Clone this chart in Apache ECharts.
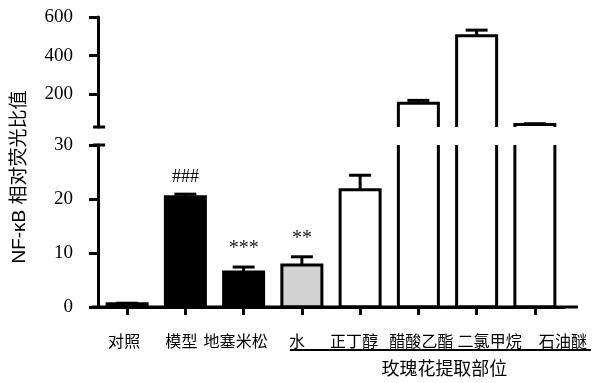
<!DOCTYPE html>
<html><head><meta charset="utf-8">
<script src="https://cdn.jsdelivr.net/npm/echarts@6/dist/echarts.min.js"></script>
<style>html,body{margin:0;padding:0;background:#fff}#c{width:616px;height:383px}</style>
</head><body><div id="c"></div>
<script>
// ---- data ----
const categories = ['对照','模型','地塞米松','水','正丁醇','醋酸乙酯','二氯甲烷','石油醚'];
const means = [0.6, 20.4, 6.5, 7.8, 21.7, 153, 503, 43];
const errors = [0.1, 0.5, 0.9, 1.5, 2.7, 15, 29, 4];
const marks = ['', '###', '***', '**', '', '', '', ''];
const lowerTicks = [0, 10, 20, 30];
const upperTicks = [200, 400, 600];
const yName = 'NF-κB 相对荧光比值';
const groupName = '玫瑰花提取部位';

// ---- styles ----
const FILLS = ['#000','#000','#000','#d3d3d3','#fff','#fff','#fff','#fff'];
const LABEL_SHIFT = [-3, -4, -8, -5, -6, 3, 13, 28];
const BAR_W = 40, CAP_W = 22, LW = 3;
const SERIF = '"Liberation Serif","Noto Sans CJK SC",serif';
const CJK = '"Noto Sans CJK SC",sans-serif';

const chart = echarts.init(document.getElementById('c'), null, {renderer:'canvas'});
const rows = categories.map((c,i)=>[i, means[i], errors[i]]);

function outside(params, y){
  const cs = params.coordSys;
  return y > cs.y + cs.height - 1;
}
function barItem(params, api){
  const i = api.value(0), v = api.value(1);
  const p0 = api.coord([i, 0]), p1 = api.coord([i, v]);
  if(outside(params, p1[1])) return null;
  return {type:'rect', shape:{x:p0[0]-BAR_W/2, y:p1[1], width:BAR_W, height:p0[1]-p1[1]},
    style:{fill:FILLS[i], stroke:'#000', lineWidth:LW}};
}
function errItem(params, api){
  const i = api.value(0), v = api.value(1), e = api.value(2);
  const a = api.coord([i, v]), b = api.coord([i, v+e]);
  if(outside(params, b[1])) return null;
  return {type:'group', children:[
    {type:'line', shape:{x1:a[0], y1:a[1], x2:b[0], y2:b[1]}, style:{stroke:'#000', lineWidth:LW}},
    {type:'line', shape:{x1:b[0]-CAP_W/2, y1:b[1], x2:b[0]+CAP_W/2, y2:b[1]}, style:{stroke:'#000', lineWidth:LW}}
  ]};
}
function markItem(params, api){
  const i = api.value(0), v = api.value(1), e = api.value(2);
  const t = marks[i];
  if(!t) return null;
  const b = api.coord([i, v+e]);
  const star = t.indexOf('*')>=0;
  return {type:'text', x:b[0], y:b[1]-8,
    style:{text:t, textAlign:'center', textVerticalAlign:'bottom', fill:star?'#222':'#000',
      font:(star?'20px ':'18px ')+SERIF}};
}
function seriesFor(g){
  const s = [
    {type:'custom', xAxisIndex:g, yAxisIndex:g, data:rows, clip:true, renderItem:barItem, encode:{x:0,y:1}, z:2},
    {type:'custom', xAxisIndex:g, yAxisIndex:g, data:rows, clip:true, renderItem:errItem, encode:{x:0,y:1}, z:1}
  ];
  if(g===1) s.push({type:'custom', xAxisIndex:g, yAxisIndex:g, data:rows, clip:false, renderItem:markItem, encode:{x:0,y:1}, z:3});
  return s;
}
const catData = categories.map((c,i)=>{
  const d = LABEL_SHIFT[i]*2;
  return {value:c, textStyle:{padding: d>=0 ? [0,0,0,d] : [0,-d,0,0]}};
});

const axisLine = {show:true, lineStyle:{color:'#000', width:LW}};
chart.setOption({
  animation:false,
  grid:[
    {left:98, width:466, top:17, height:110},
    {left:98, width:466, top:145, height:162}
  ],
  xAxis:[
    {gridIndex:0, type:'category', data:categories, show:false},
    {gridIndex:1, type:'category', data:catData,
      axisLine:axisLine, axisTick:{show:true, alignWithLabel:true, length:8, lineStyle:{color:'#000', width:LW}},
      axisLabel:{interval:0, hideOverlap:false, margin:26, color:'#000', fontSize:16, fontFamily:CJK}}
  ],
  yAxis:[
    {gridIndex:0, type:'value', min:30, max:600, splitLine:{show:false},
      axisLine:axisLine,
      axisTick:{show:true, length:9, customValues:upperTicks, lineStyle:{color:'#000', width:LW}},
      axisLabel:{customValues:upperTicks, margin:25, color:'#000', fontSize:19, fontFamily:SERIF}},
    {gridIndex:1, type:'value', min:0, max:30, interval:10, splitLine:{show:false},
      axisLine:axisLine,
      axisTick:{show:true, length:9, customValues:lowerTicks, lineStyle:{color:'#000', width:LW}},
      axisLabel:{customValues:lowerTicks, margin:25, color:'#000', fontSize:19, fontFamily:SERIF}}
  ],
  series:[...seriesFor(0), ...seriesFor(1)]
});

// decorations computed from the axes
const yAxisX = chart.convertToPixel({xAxisIndex:1}, 0) - 29;
const y0 = chart.convertToPixel({yAxisIndex:1}, 0);
const y30 = chart.convertToPixel({yAxisIndex:1}, 30);
const yUpBottom = chart.convertToPixel({yAxisIndex:0}, 30);
const xWater = chart.convertToPixel({xAxisIndex:1}, 3);
const xLast = chart.convertToPixel({xAxisIndex:1}, 7);
const ln = (x1,y1,x2,y2,w)=>({type:'line', shape:{x1,y1,x2,y2}, style:{stroke:'#000', lineWidth:w||LW}, z:10});
chart.setOption({graphic:[
  ln(yAxisX-6, y0, xLast+43, y0),
  ln(yAxisX-5, y30, yAxisX+7, y30),
  ln(yAxisX-5, yUpBottom, yAxisX+7, yUpBottom),
  ln(xWater-12, 350, xLast+56, 350, 2),
  {type:'text', x:(xWater-12+xLast+56)/2+4, y:368, style:{text:groupName, textAlign:'center', textVerticalAlign:'middle', fill:'#000', font:'18px '+CJK}},
  {type:'text', x:20, y:177, rotation:Math.PI/2, style:{text:yName, textAlign:'center', textVerticalAlign:'middle', fill:'#000', font:'19px "Liberation Sans","Noto Sans CJK SC",sans-serif'}}
]});
</script></body></html>
